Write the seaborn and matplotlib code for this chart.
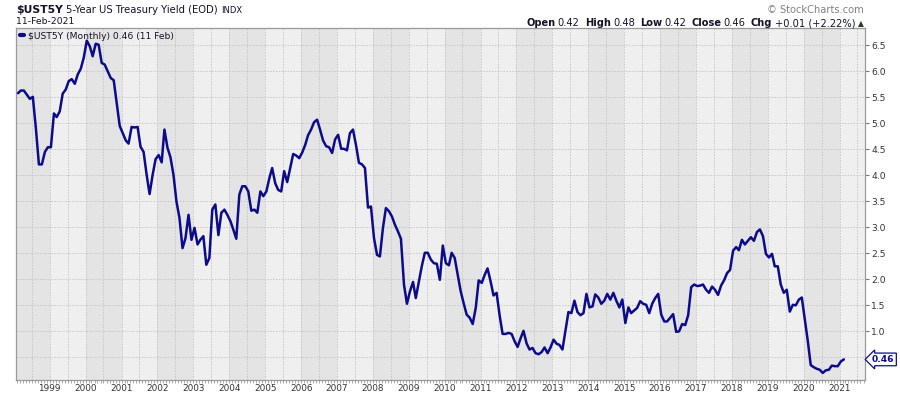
import matplotlib
matplotlib.use("Agg")
import pandas as pd
import seaborn as sns
import matplotlib.pyplot as plt
import matplotlib.dates as mdates
from matplotlib.ticker import NullFormatter

W, H = 900, 396

# monthly closes of $UST5Y, Feb 1998 .. Feb 2021
first_month = "1998-02-01"
yields = [
    5.58, 5.63, 5.63, 5.55, 5.47, 5.51, 4.91, 4.21, 4.21, 4.45, 4.54,           # 1998
    4.54, 5.19, 5.12, 5.23, 5.57, 5.65, 5.81, 5.85, 5.76, 5.94, 6.05, 6.26,     # 1999
    6.59, 6.48, 6.29, 6.53, 6.51, 6.16, 6.13, 6.00, 5.87, 5.83, 5.39, 4.95,     # 2000
    4.81, 4.67, 4.61, 4.93, 4.92, 4.93, 4.55, 4.45, 4.01, 3.64, 4.01, 4.31,     # 2001
    4.39, 4.25, 4.88, 4.53, 4.35, 4.01, 3.50, 3.18, 2.60, 2.79, 3.24, 2.76,     # 2002
    2.99, 2.67, 2.76, 2.83, 2.28, 2.41, 3.34, 3.44, 2.85, 3.28, 3.34, 3.24,     # 2003
    3.12, 2.95, 2.78, 3.63, 3.79, 3.79, 3.69, 3.32, 3.34, 3.28, 3.69, 3.60,     # 2004
    3.69, 3.95, 4.14, 3.85, 3.72, 3.69, 4.08, 3.87, 4.14, 4.41, 4.38, 4.33,     # 2005
    4.44, 4.59, 4.77, 4.88, 5.02, 5.07, 4.88, 4.67, 4.56, 4.54, 4.43, 4.69,     # 2006
    4.78, 4.51, 4.51, 4.48, 4.81, 4.88, 4.59, 4.24, 4.21, 4.14, 3.38, 3.40,     # 2007
    2.79, 2.47, 2.44, 2.99, 3.37, 3.31, 3.21, 3.05, 2.92, 2.78, 1.90, 1.53,     # 2008
    1.77, 1.95, 1.64, 1.95, 2.25, 2.51, 2.51, 2.38, 2.31, 2.30, 1.99, 2.65,     # 2009
    2.31, 2.27, 2.51, 2.41, 2.09, 1.77, 1.54, 1.32, 1.26, 1.14, 1.45, 1.98,     # 2010
    1.93, 2.09, 2.21, 1.96, 1.69, 1.74, 1.32, 0.95, 0.95, 0.97, 0.95, 0.81,     # 2011
    0.70, 0.87, 1.01, 0.77, 0.65, 0.68, 0.58, 0.56, 0.60, 0.69, 0.58, 0.69,     # 2012
    0.84, 0.76, 0.74, 0.65, 1.00, 1.37, 1.35, 1.59, 1.37, 1.31, 1.35, 1.72,     # 2013
    1.46, 1.48, 1.71, 1.65, 1.53, 1.59, 1.72, 1.61, 1.74, 1.59, 1.46, 1.61,     # 2014
    1.16, 1.46, 1.35, 1.40, 1.45, 1.58, 1.53, 1.51, 1.35, 1.53, 1.64, 1.72,     # 2015
    1.32, 1.19, 1.19, 1.26, 1.33, 0.99, 1.00, 1.14, 1.12, 1.31, 1.85, 1.90,     # 2016
    1.87, 1.88, 1.90, 1.80, 1.74, 1.86, 1.80, 1.70, 1.88, 1.98, 2.12, 2.18,     # 2017
    2.55, 2.62, 2.56, 2.76, 2.67, 2.74, 2.81, 2.74, 2.91, 2.96, 2.83, 2.49,     # 2018
    2.42, 2.49, 2.25, 2.25, 1.90, 1.74, 1.80, 1.38, 1.51, 1.50, 1.61, 1.65,     # 2019
    1.22, 0.80, 0.35, 0.31, 0.28, 0.26, 0.20, 0.25, 0.26, 0.34, 0.33, 0.33,     # 2020
    0.42, 0.46,                                                                 # 2021
]

y_ticks = [0.5, 1.0, 1.5, 2.0, 2.5, 3.0, 3.5, 4.0, 4.5, 5.0, 5.5, 6.0, 6.5]
years = list(range(1999, 2022))
last_value = 0.46
quote_labels = ["Open", "High", "Low", "Close", "Chg"]
quote_values = ["0.42", "0.48", "0.42", "0.46", "+0.01 (+2.22%)"]
legend_label = "$UST5Y (Monthly) 0.46 (11 Feb)"

navy = "#0c0c8a"
ink = "#12122a"

df = pd.DataFrame({
    "date": pd.date_range(first_month, periods=len(yields), freq="MS") + pd.Timedelta(days=12),
    "close": yields,
})

sns.set_style("white")
plt.rcParams["font.family"] = ["DejaVu Sans"]

fig = plt.figure(figsize=(W / 100, H / 100), dpi=100)
ax = fig.add_axes([16 / W, 16 / H, 849 / W, 352 / H])
ax.set_facecolor("#efefef")

sns.lineplot(data=df, x="date", y="close", ax=ax, color=navy, lw=1.8, zorder=3)

# alternating year bands
for yr in range(1998, 2022, 2):
    ax.axvspan(pd.Timestamp(yr, 1, 1), pd.Timestamp(yr + 1, 1, 1), color="#e4e4e4", lw=0, zorder=0)

ax.set_xlim(pd.Timestamp("1998-01-23"), pd.Timestamp("2021-09-16"))
ax.set_ylim(0.064, 6.833)

ax.set_xticks([pd.Timestamp(y, 1, 1) for y in years])
ax.set_xticklabels([str(y) for y in years])
ax.set_xticks([pd.Timestamp(y, 7, 1) for y in range(1998, 2022)], minor=True)
ax.yaxis.tick_right()
ax.set_yticks(y_ticks)
ax.set_yticklabels(["" if v < 1 else f"{v:.1f}" for v in y_ticks])
ax.set_xlabel("")
ax.set_ylabel("")

ax.set_axisbelow(True)
ax.grid(True, which="both", axis="x", color="#c6c6c6", lw=0.7, ls=(0, (1.5, 1.5)))
ax.grid(True, which="major", axis="y", color="#c6c6c6", lw=0.7, ls=(0, (1.5, 1.5)))

ax.tick_params(axis="y", length=3, width=0.8, color="#777777", pad=1.5, labelsize=6.6, labelcolor="#333333")
ax.tick_params(axis="x", which="both", length=0, pad=3, labelsize=6.4, labelcolor="#333333")
for s in ax.spines.values():
    s.set_color("#9a9a9a")
    s.set_linewidth(0.9)

# monthly ruler under the axis
ruler = ax.secondary_xaxis("bottom")
ruler.xaxis.set_major_locator(mdates.MonthLocator())
ruler.xaxis.set_major_formatter(NullFormatter())
ruler.tick_params(length=2, width=0.6, color="#9a9a9a")
ruler.spines["bottom"].set_visible(False)

leg = ax.legend(handles=[ax.lines[0]], labels=[legend_label], loc="upper left", frameon=False,
                fontsize=6.6, handlelength=0.5, handletextpad=0.4, borderaxespad=0.1, borderpad=0.3,
                labelcolor=ink)
leg.get_lines()[0].set_linewidth(3)

# last value tag on the right axis
ax.annotate(f"{last_value:.2f}", xy=(1, last_value), xycoords=ax.get_yaxis_transform(),
            xytext=(7, 0), textcoords="offset pixels", va="center", ha="left",
            fontsize=6.6, weight="bold", color=navy, annotation_clip=False,
            bbox=dict(boxstyle="larrow,pad=0.2", fc="white", ec=navy, lw=0.9))

renderer = fig.canvas.get_renderer()


def put(x, y, s, ha="left", **kw):
    t = fig.text(x / W, 1 - y / H, s, ha=ha, va="baseline", parse_math=False, **kw)
    bb = t.get_window_extent(renderer)
    return bb.x0, bb.x1


_, x1 = put(16, 13, "$UST5Y", fontsize=7.8, weight="bold", color=ink)
_, x1 = put(x1 + 3, 13, "5-Year US Treasury Yield (EOD)", fontsize=7.2, color=ink)
put(x1 + 4, 13, "INDX", fontsize=6, color=ink)
put(16, 24, "11-Feb-2021", fontsize=6.7, color=ink)
put(864, 13, "\u00a9 StockCharts.com", ha="right", fontsize=7.1, color="#808080")

x = 864
x0, _ = put(x, 26, "\u25b2", ha="right", fontsize=5.5, color="#2a3a2a")
x = x0 - 3
for label, val in zip(reversed(quote_labels), reversed(quote_values)):
    x0, _ = put(x, 26, val, ha="right", fontsize=7.1, color=ink)
    x = x0 - 2.5
    x0, _ = put(x, 26, label, ha="right", fontsize=7.1, weight="bold", color=ink)
    x = x0 - 5

fig.savefig("out.png", dpi=100)
